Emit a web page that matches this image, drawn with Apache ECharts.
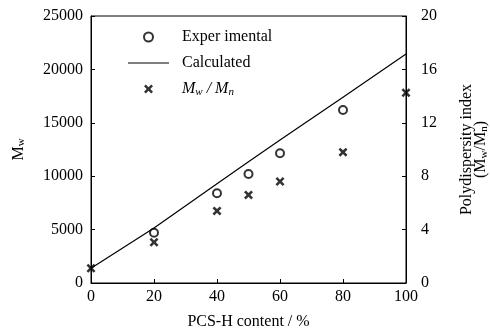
<!DOCTYPE html>
<html>
<head>
    <meta charset="utf-8">
    <title>Mw vs PCS-H content</title>
    <script type="text/javascript" src="https://cdn.jsdelivr.net/npm/echarts@6/dist/echarts.min.js"></script>
    <style type="text/css">
        body{ margin:0; background:#fff; }
        #main{ width:490px; height:329px; }
    </style>
</head>
<body>
    <div id="main"></div>
    <script type="text/javascript">
        // data
        var expX = [20, 40, 50, 60, 80];
        var expMw = [4700, 8400, 10200, 12150, 16200];
        var calcX = [0, 20, 40, 50, 60, 80, 100];
        var calcMw = [1380, 5150, 9300, 11350, 13400, 17400, 21450];
        var pdiX = [0, 20, 40, 50, 60, 80, 100];
        var pdi = [1.1, 3.05, 5.4, 6.6, 7.6, 9.8, 14.25];

        function pairs(xs, ys){
            var out = [];
            for (var i = 0; i < xs.length; i++) out.push([xs[i], ys[i]]);
            return out;
        }

        var font = "'Liberation Serif', 'Times New Roman', serif";
        // bold x marker
        var crossPath = 'path://M2,0 L5,3 L8,0 L10,2 L7,5 L10,8 L8,10 L5,7 L2,10 L0,8 L3,5 L0,2 Z';
        var linePath = 'path://M0,0 H41 V1.2 H0 Z';
        var subRich = {
            sub: { fontFamily: font, fontSize: 11, color: '#000', padding: [6, 0, 0, 0] }
        };

        var myChart = echarts.init(document.getElementById('main'));
        var option = {
            animation: false,
            textStyle: { fontFamily: font, color: '#000' },
            grid: {
                left: 91, right: 84, top: 16, bottom: 46,
                outerBoundsMode: 'none',
                containLabel: false,
                show: true, borderColor: '#000', borderWidth: 1
            },
            legend: {
                orient: 'vertical',
                left: 128, top: 29,
                padding: 0,
                itemWidth: 41, itemHeight: 9, itemGap: 10,
                textStyle: {
                    fontFamily: font, fontSize: 16, color: '#000',
                    padding: [0, 0, 0, 8],
                    rich: {
                        i: { fontFamily: font, fontSize: 16, fontStyle: 'italic', color: '#000' },
                        s: { fontFamily: font, fontSize: 11, fontStyle: 'italic', color: '#000', padding: [6, 0, 0, 0] }
                    }
                },
                formatter: function(name){
                    if (name === 'MwMn') return '{i|M}{s|w}{i| / M}{s|n}';
                    return name;
                },
                data: [
                    { name: 'Exper imental' },
                    { name: 'Calculated', icon: linePath },
                    { name: 'MwMn' }
                ]
            },
            xAxis: {
                type: 'value',
                min: 0, max: 100, interval: 20,
                name: 'PCS-H content / %',
                nameLocation: 'middle',
                nameGap: 31,
                nameTextStyle: { fontFamily: font, fontSize: 16, color: '#000' },
                axisLine: { lineStyle: { color: '#000', width: 1 } },
                axisTick: { inside: true, length: 4, lineStyle: { color: '#000' } },
                axisLabel: { fontFamily: font, fontSize: 16, color: '#000', margin: 6 },
                splitLine: { show: false }
            },
            yAxis: [{
                type: 'value',
                min: 0, max: 25000, interval: 5000,
                name: 'M{sub|w}',
                nameLocation: 'middle',
                nameGap: 64,
                nameRotate: 90,
                nameTextStyle: { fontFamily: font, fontSize: 16, color: '#000', rich: subRich },
                axisLine: { show: true, lineStyle: { color: '#000', width: 1 } },
                axisTick: { inside: true, length: 4, lineStyle: { color: '#000' } },
                axisLabel: {
                    fontFamily: font, fontSize: 16, color: '#000', margin: 8,
                    formatter: function(v){ return String(v); }
                },
                splitLine: { show: false }
            }, {
                type: 'value',
                min: 0, max: 20, interval: 4,
                position: 'right',
                name: 'Polydispersity index\n(M{sub|w}/M{sub|n})',
                nameLocation: 'middle',
                nameGap: 54,
                nameRotate: 90,
                nameTextStyle: { fontFamily: font, fontSize: 16, color: '#000', lineHeight: 14, rich: subRich },
                axisLine: { show: true, lineStyle: { color: '#000', width: 1 } },
                axisTick: { inside: true, length: 4, lineStyle: { color: '#000' } },
                axisLabel: { fontFamily: font, fontSize: 16, color: '#000', margin: 15 },
                splitLine: { show: false }
            }],
            series: [{
                name: 'Exper imental',
                type: 'scatter',
                symbol: 'emptyCircle',
                symbolSize: 8,
                itemStyle: { color: '#000', borderColor: '#000', borderWidth: 2 },
                data: pairs(expX, expMw)
            }, {
                name: 'Calculated',
                type: 'line',
                symbol: 'none',
                showSymbol: false,
                lineStyle: { color: '#000', width: 1.2 },
                itemStyle: { color: '#000' },
                data: pairs(calcX, calcMw)
            }, {
                name: 'MwMn',
                type: 'scatter',
                yAxisIndex: 1,
                symbol: crossPath,
                symbolSize: 9,
                symbolKeepAspect: true,
                itemStyle: { color: '#000' },
                data: pairs(pdiX, pdi)
            }]
        };
        myChart.setOption(option);
    </script>
</body>
</html>
